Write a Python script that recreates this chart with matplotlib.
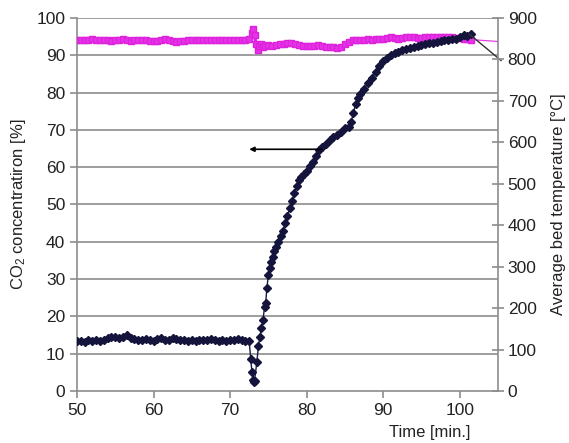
import matplotlib
matplotlib.use("Agg")
import matplotlib.pyplot as plt

plt.rcParams['font.family'] = ['Liberation Sans', 'DejaVu Sans']
plt.rcParams['mathtext.fontset'] = 'custom'
plt.rcParams['mathtext.rm'] = 'Liberation Sans'
plt.rcParams['mathtext.it'] = 'Liberation Sans:italic'

# dark series (left-axis units)
dark_t = [50.0, 50.5, 51.0, 51.5, 52.0, 52.5, 53.0, 53.5, 54.0, 54.5, 55.0, 55.5, 56.0, 56.5,
          57.0, 57.5, 58.0, 58.5, 59.0, 59.5, 60.0, 60.5, 61.0, 61.5, 62.0, 62.5, 63.0, 63.5,
          64.0, 64.5, 65.0, 65.5, 66.0, 66.5, 67.0, 67.5, 68.0, 68.5, 69.0, 69.5, 70.0, 70.5,
          71.0, 71.5, 72.0, 72.5,
          72.7, 72.85, 73.0, 73.1, 73.2, 73.5, 73.7, 73.9, 74.1, 74.3, 74.5, 74.65, 74.8, 75.0,
          75.2, 75.4, 75.6, 75.8, 76.0, 76.3, 76.6, 76.9, 77.2, 77.5, 77.8, 78.1, 78.4, 78.7,
          79.0, 79.3, 79.6, 80.0, 80.4, 80.8, 81.2, 81.6, 82.0, 82.5, 83.0, 83.5, 84.0, 84.5,
          85.0, 85.5, 85.8, 86.1, 86.4, 86.7, 87.0, 87.5, 88.0, 88.5, 89.0, 89.5, 90.0, 90.5,
          91.0, 91.5, 92.0, 92.5, 93.0, 93.5, 94.0, 94.5, 95.0, 95.5, 96.0, 96.5, 97.0, 97.5,
          98.0, 98.5, 99.0, 99.5, 100.0, 100.5, 101.0, 101.5]
dark_v = [13.3, 13.5, 13.2, 13.6, 13.4, 13.7, 13.5, 13.8, 14.1, 14.4, 14.6, 14.3, 14.5, 15.0,
          14.2, 13.9, 13.8, 13.7, 13.9, 13.6, 13.5, 13.9, 14.3, 13.8, 13.6, 14.1, 13.9, 13.7,
          13.8, 13.5, 13.6, 13.4, 13.7, 13.6, 13.8, 13.9, 13.7, 13.5, 13.6, 13.4, 13.7, 13.8,
          14.0, 13.6, 13.5, 13.3,
          8.5, 5.2, 3.0, 2.4, 2.8, 7.8, 12.0, 14.5, 17.0, 19.0, 22.5, 23.5, 27.5, 31.0,
          33.0, 34.5, 36.0, 37.5, 38.5, 40.0, 41.5, 43.0, 45.0, 47.0, 49.0, 51.0, 53.0, 55.0,
          56.5, 57.5, 58.3, 59.0, 60.2, 61.5, 63.0, 64.5, 65.5, 66.3, 67.3, 68.0, 68.5, 69.5,
          70.5, 70.8, 72.0, 74.5, 77.0, 78.5, 79.5, 81.0, 82.5, 84.0, 85.5, 87.0, 88.5, 89.3,
          90.0, 90.5, 91.0, 91.3, 91.8, 92.0, 92.3, 92.6, 92.8, 93.0, 93.2, 93.3, 93.6, 93.8,
          94.0, 94.2, 94.5, 94.4, 95.0, 95.5, 95.2, 95.7]

# magenta series (left-axis units)
mag_t = [50.0, 50.5, 51.0, 51.5, 52.0, 52.5, 53.0, 53.5, 54.0, 54.5, 55.0, 55.5, 56.0, 56.5,
         57.0, 57.5, 58.0, 58.5, 59.0, 59.5, 60.0, 60.5, 61.0, 61.5, 62.0, 62.5, 63.0, 63.5,
         64.0, 64.5, 65.0, 65.5, 66.0, 66.5, 67.0, 67.5, 68.0, 68.5, 69.0, 69.5, 70.0, 70.5,
         71.0, 71.5, 72.0, 72.5, 72.8, 73.0, 73.2, 73.4, 73.6, 73.8, 74.0, 74.3, 74.6, 75.0,
         75.5, 76.0, 76.5, 77.0, 77.5, 78.0, 78.5, 79.0, 79.5, 80.0, 80.5, 81.0, 81.5, 82.0,
         82.5, 83.0, 83.5, 84.0, 84.5, 85.0, 85.5, 86.0, 86.5, 87.0, 87.5, 88.0, 88.5, 89.0,
         89.5, 90.0, 90.5, 91.0, 91.5, 92.0, 92.5, 93.0, 93.5, 94.0, 94.5, 95.0, 95.5, 96.0,
         96.5, 97.0, 97.5, 98.0, 98.5, 99.0, 99.5, 100.0, 100.5, 101.0, 101.5]
mag_v = [94.0, 94.1, 94.0, 94.2, 94.3, 94.1, 94.0, 94.2, 94.0, 93.9, 94.1, 94.2, 94.3, 94.1,
         93.9, 94.0, 94.2, 94.0, 94.1, 93.9, 93.8, 93.9, 94.0, 94.3, 94.1, 93.8, 93.6, 93.7,
         93.9, 94.2, 94.1, 94.0, 94.2, 94.1, 94.0, 94.1, 94.2, 94.0, 94.1, 94.2, 94.1, 94.0,
         94.2, 94.1, 94.0, 94.3, 96.0, 97.0, 95.5, 93.0, 91.5, 92.5, 93.0, 92.2, 92.5, 92.8,
         92.6, 92.7, 92.9, 93.1, 93.3, 93.2, 93.0, 92.8, 92.6, 92.5, 92.4, 92.6, 92.8, 92.5,
         92.3, 92.2, 92.1, 92.0, 92.2, 93.0, 93.6, 94.0, 94.1, 94.0, 94.2, 94.3, 94.2, 94.4,
         94.5, 94.3, 94.6, 94.8, 94.7, 94.5, 94.6, 94.8, 95.0, 94.8, 94.6, 94.7, 94.9, 95.0,
         94.8, 94.9, 95.0, 94.8, 94.9, 95.0, 94.7, 94.6, 94.5, 94.4, 94.2]
mag_tail_t = [101.5, 105.0]
mag_tail_v = [94.2, 93.7]

# annotations (left-axis units)
arrow_from = (82.0, 64.8)
arrow_to = (72.5, 64.8)
leader_from = (101.3, 95.6)
leader_to = (105.4, 88.6)

x_ticks = [50, 60, 70, 80, 90, 100]
y_ticks = [0, 10, 20, 30, 40, 50, 60, 70, 80, 90, 100]
y2_ticks = [0, 100, 200, 300, 400, 500, 600, 700, 800, 900]

fig = plt.figure(figsize=(5.69, 4.43), dpi=100)
ax = fig.add_axes([0.1353, 0.1174, 0.8752 - 0.1353, 0.9594 - 0.1174])
grey = '#8c8c8c'

for yv in y_ticks[1:]:
    ax.axhline(yv, color=grey, lw=1.2, zorder=1)

ax.plot(mag_t, mag_v, color='#e020e0', lw=2.2, marker='s', ms=4.0,
        mec='#dd22dd', mfc='#e633e6', zorder=3)
ax.plot(mag_tail_t, mag_tail_v, color='#e040e0', lw=0.9, zorder=3)
ax.plot(dark_t, dark_v, color='#1a1a4a', lw=1.0, marker='D', ms=3.7,
        mec='#14143c', mfc='#14143c', zorder=4)

ax.annotate('', xy=arrow_to, xytext=arrow_from,
            arrowprops=dict(arrowstyle='-|>', color='black', lw=1.2,
                            mutation_scale=7, shrinkA=0, shrinkB=0), zorder=5)
ax.plot([leader_from[0], leader_to[0]], [leader_from[1], leader_to[1]],
        color='#333333', lw=1.0, zorder=5, clip_on=False)

ax.set_xlim(50, 105)
ax.set_ylim(0, 100)
ax.set_xticks(x_ticks)
ax.set_yticks(y_ticks)
for s in ['top', 'right']:
    ax.spines[s].set_visible(False)
for s in ['left', 'bottom']:
    ax.spines[s].set_color(grey)
    ax.spines[s].set_linewidth(1.2)
ax.tick_params(axis='both', colors=grey, labelcolor='#222222', labelsize=12.5,
               length=5, width=1.2, direction='out')
ax.set_ylabel('CO$_2$ concentratiron [%]', fontsize=12, color='#222222', labelpad=6)
ax.set_xlabel('Time [min.]', fontsize=12, color='#222222')
ax.xaxis.set_label_coords(0.838, -0.09)

ax2 = ax.twinx()
ax2.set_ylim(0, 900)
ax2.set_yticks(y2_ticks)
for s in ['top', 'left', 'bottom']:
    ax2.spines[s].set_visible(False)
ax2.spines['right'].set_color(grey)
ax2.spines['right'].set_linewidth(1.2)
ax2.tick_params(axis='y', colors=grey, labelcolor='#222222', labelsize=12.5,
                length=8, width=1.2, direction='inout', pad=3)
ax2.set_ylabel('Average bed temperature [°C]', fontsize=12, color='#222222', labelpad=10)

fig.savefig('out.png', dpi=100)
